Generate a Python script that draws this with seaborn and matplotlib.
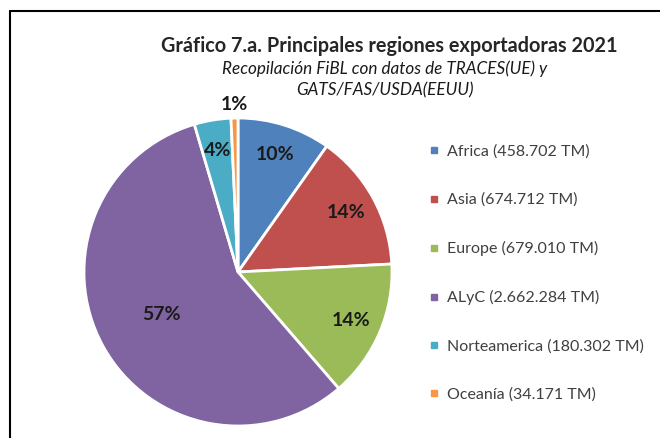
import matplotlib.pyplot as plt
import seaborn as sns
from matplotlib.lines import Line2D

regiones = ['Africa', 'Asia', 'Europe', 'ALyC', 'Norteamerica', 'Oceanía']
toneladas = [458702, 674712, 679010, 2662284, 180302, 34171]
etiquetas_tm = ['458.702', '674.712', '679.010', '2.662.284', '180.302', '34.171']
colores = ['#4F81BD', '#C0504D', '#9BBB59', '#8064A2', '#4BACC6', '#F79646']

sns.set_theme(style='white')
plt.rcParams['font.family'] = ['Lato', 'DejaVu Sans']

fig = plt.figure(figsize=(6.6, 4.38), dpi=100)
ax = fig.add_axes([84 / 660, 12 / 438, 308 / 660, 308 / 438])

wedges, _, autotexts = ax.pie(
    toneladas, colors=colores, startangle=90, counterclock=False,
    autopct=lambda p: f'{p:.0f}%', pctdistance=0.8,
    wedgeprops=dict(edgecolor='white', linewidth=2),
    textprops=dict(fontsize=14, fontweight='bold', color='#1a1a1a'),
)
# ajustar posición de etiquetas (ALyC más adentro, Oceanía fuera)
ajuste = {3: 0.57 / 0.8, 5: 1.09 / 0.8}
for i, f in ajuste.items():
    x, y = autotexts[i].get_position()
    autotexts[i].set_position((x * f, y * f))
ax.set_xlim(-1, 1)
ax.set_ylim(-1, 1)
ax.set_aspect('equal')

handles = [Line2D([], [], marker='s', linestyle='', markersize=5, color=c) for c in colores]
labels = [f'{r} ({t} TM)' for r, t in zip(regiones, etiquetas_tm)]
fig.legend(handles, labels, loc='upper left', bbox_to_anchor=(0.629, 0.703),
           frameon=False, fontsize=11.5, labelspacing=2.13, handlelength=0.6,
           handletextpad=0.5, labelcolor='#404040')

fig.text(0.59, 0.895, 'Gráfico 7.a. Principales regiones exportadoras 2021',
         ha='center', va='center', fontsize=14.3, fontweight='bold')
fig.text(0.583, 0.842, 'Recopilación FiBL con datos de TRACES(UE) y',
         ha='center', va='center', fontsize=12.3, style='italic', color='#1a1a1a')
fig.text(0.583, 0.794, 'GATS/FAS/USDA(EEUU)',
         ha='center', va='center', fontsize=12.3, style='italic', color='#1a1a1a')

# marco del gráfico
fig.add_artist(Line2D([10 / 660, 10 / 660], [0, 1 - 11 / 438], color='black', lw=1.5))
fig.add_artist(Line2D([10 / 660, 1], [1 - 11 / 438, 1 - 11 / 438], color='black', lw=1.5))

fig.savefig('out.png', dpi=100)
